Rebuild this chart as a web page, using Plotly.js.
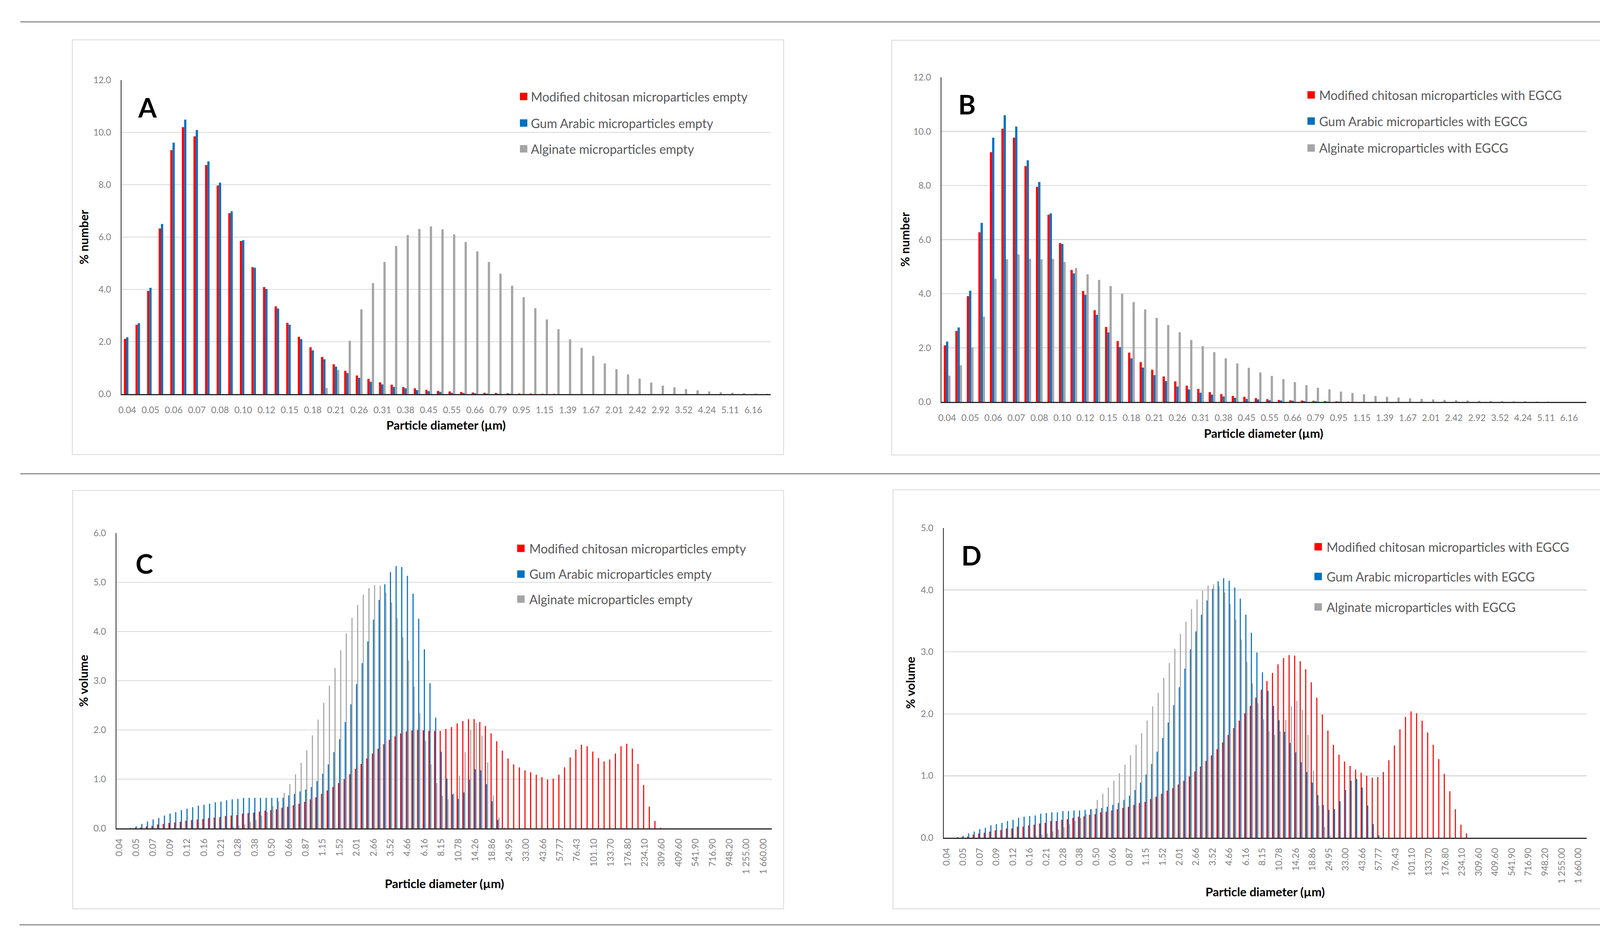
<!DOCTYPE html>
<html>
<head>
<meta charset="utf-8">
<script src="https://cdn.plot.ly/plotly-3.0.1.min.js"></script>
<style>
html,body{margin:0;padding:0;background:#ffffff;}
#chart{width:4281px;height:2412px;}
</style>
</head>
<body>
<div id="chart"></div>
<script>
// ---------- categories (particle size classes, µm) ----------
const diameters = ['0.0400','0.0439','0.0482','0.0529','0.0581','0.0638','0.0700','0.0768','0.0843','0.0926',
 '0.1016','0.1115','0.1224','0.1344','0.1475','0.1619','0.1777','0.1951','0.2142','0.2351',
 '0.2581','0.2833','0.3110','0.3414','0.3747','0.4114','0.4516','0.4957','0.5441','0.5973',
 '0.6557','0.7198','0.7901','0.8673','0.9521','1.045','1.147','1.259','1.382','1.518',
 '1.666','1.829','2.008','2.204','2.419','2.656','2.915','3.200','3.513','3.857',
 '4.234','4.647','5.102','5.600','6.148','6.748','7.408','8.132','8.927','9.799',
 '10.76','11.81','12.96','14.23','15.62','17.15','18.82','20.66','22.68','24.90',
 '27.33','30.00','32.94','36.16','39.69','43.57','47.82','52.50','57.63','63.26',
 '69.45','76.23','83.68','91.86','100.8','110.7','121.5','133.4','146.4','160.7',
 '176.4','193.7','212.6','233.4','256.2','281.2','308.7','338.9','372.0','408.4',
 '448.3','492.1','540.2','593.0','651.0','714.6','784.5','861.2','945.3','1038',
 '1139','1251','1373','1507','1654','1816'];

const tickLabelsNumber = ['0.04','0.05','0.06','0.07','0.08','0.10','0.12','0.15','0.18','0.21','0.26','0.31','0.38','0.45',
 '0.55','0.66','0.79','0.95','1.15','1.39','1.67','2.01','2.42','2.92','3.52','4.24','5.11','6.16'];
const tickLabelsVolume = ['0.04','0.05','0.07','0.09','0.12','0.16','0.21','0.28','0.38','0.50','0.66','0.87','1.15','1.52',
 '2.01','2.66','3.52','4.66','6.16','8.15','10.78','14.26','18.86','24.95','33.00','43.66','57.77','76.43','101.10',
 '133.70','176.80','234.10','309.60','409.60','541.90','716.90','948.20','1 255.00','1 660.00'];

// ---------- series names ----------
const namesEmpty = ['Modified chitosan microparticles empty','Gum Arabic microparticles empty','Alginate microparticles empty'];
const namesEGCG = ['Modified chitosan microparticles with EGCG','Gum Arabic microparticles with EGCG','Alginate microparticles with EGCG'];

// ---------- A: % number, empty ----------
const numChitosanEmpty = [2.11,2.65,3.94,6.33,9.32,10.20,9.85,8.75,7.97,6.91,
 5.85,4.85,4.09,3.35,2.72,2.19,1.79,1.42,1.14,0.89,
 0.71,0.58,0.45,0.36,0.27,0.22,0.16,0.12,0.10,0.08,
 0.06,0.05,0.04,0.03,0.02,0.02,0.01,0.01,0,0,
 0,0,0,0,0,0,0,0,0,0,
 0,0,0,0,0,0];
const numGumEmpty = [2.17,2.71,4.06,6.50,9.61,10.49,10.09,8.89,8.08,6.98,
 5.88,4.83,4.02,3.27,2.65,2.10,1.67,1.33,1.05,0.80,
 0.62,0.47,0.37,0.27,0.22,0.15,0.11,0.08,0.05,0.04,
 0.03,0.02,0.01,0.01,0,0,0,0,0,0,
 0,0,0,0,0,0,0,0,0,0,
 0,0,0,0,0,0];
const numAlginateEmpty = [0,0,0,0,0,0,0,0,0,0,
 0,0,0,0,0,0,0,0.23,0.92,2.04,
 3.24,4.24,5.05,5.66,6.08,6.31,6.41,6.29,6.10,5.81,
 5.45,5.05,4.60,4.14,3.70,3.28,2.85,2.48,2.09,1.77,
 1.46,1.17,0.95,0.75,0.59,0.44,0.32,0.26,0.19,0.14,
 0.10,0.07,0.05,0.03,0.02,0.01];

// ---------- B: % number, with EGCG ----------
const numChitosanEGCG = [2.09,2.62,3.91,6.27,9.23,10.10,9.77,8.72,7.95,6.92,
 5.87,4.88,4.10,3.39,2.77,2.25,1.82,1.47,1.19,0.94,
 0.76,0.60,0.48,0.36,0.29,0.22,0.19,0.14,0.10,0.07,
 0.06,0.05,0.04,0.03,0.02,0.01,0,0,0,0,
 0,0,0,0,0,0,0,0,0,0,
 0,0,0,0,0,0];
const numGumEGCG = [2.23,2.75,4.11,6.62,9.77,10.60,10.18,8.93,8.13,6.97,
 5.84,4.75,3.96,3.22,2.57,2.03,1.61,1.27,0.99,0.77,
 0.57,0.46,0.34,0.27,0.20,0.15,0.11,0.09,0.06,0.05,
 0.04,0.03,0.02,0.01,0.01,0,0,0,0,0,
 0,0,0,0,0,0,0,0,0,0,
 0,0,0,0,0,0];
const numAlginateEGCG = [0.97,1.35,2.01,3.15,4.55,5.27,5.45,5.29,5.27,5.29,
 5.17,4.95,4.72,4.51,4.28,4.00,3.69,3.42,3.11,2.84,
 2.57,2.29,2.06,1.84,1.61,1.42,1.26,1.09,0.96,0.84,
 0.73,0.62,0.52,0.46,0.38,0.33,0.28,0.22,0.19,0.16,
 0.13,0.11,0.09,0.07,0.06,0.05,0.04,0.03,0.03,0.02,
 0.02,0.01,0.01,0,0,0];

// ---------- C: % volume, empty ----------
const volChitosanEmpty = [0,0,0,0.01,0.02,0.04,0.05,0.08,0.09,0.11,
 0.12,0.135,0.155,0.17,0.18,0.19,0.21,0.22,0.23,0.25,
 0.26,0.27,0.30,0.31,0.32,0.34,0.36,0.37,0.39,0.42,
 0.44,0.47,0.50,0.54,0.59,0.63,0.70,0.77,0.84,0.92,
 1.00,1.10,1.21,1.31,1.42,1.52,1.62,1.71,1.80,1.87,
 1.93,1.97,1.99,2.00,1.99,1.98,1.98,1.98,2.02,2.06,
 2.13,2.18,2.22,2.22,2.16,2.08,1.93,1.77,1.58,1.42,
 1.30,1.24,1.18,1.14,1.09,1.04,0.99,1.01,1.09,1.24,
 1.44,1.60,1.70,1.67,1.56,1.43,1.36,1.40,1.52,1.67,
 1.72,1.62,1.31,0.88,0.44,0.15,0.01,0,0,0,
 0,0,0,0,0,0,0,0,0,0,
 0,0,0,0,0,0];
const volGumEmpty = [0,0,0.01,0.04,0.09,0.14,0.18,0.21,0.26,0.30,
 0.33,0.37,0.40,0.43,0.46,0.48,0.50,0.53,0.54,0.57,
 0.59,0.60,0.62,0.62,0.62,0.62,0.62,0.62,0.62,0.62,
 0.67,0.70,0.75,0.79,0.84,0.96,1.11,1.30,1.55,1.81,
 2.16,2.52,2.93,3.36,3.80,4.24,4.64,4.96,5.21,5.33,
 5.31,5.13,4.77,4.26,3.64,2.95,2.25,1.56,1.01,0.69,
 0.60,0.73,0.99,1.20,1.18,0.90,0.55,0.17,0,0,
 0,0,0,0,0,0,0,0,0,0,
 0,0,0,0,0,0,0,0,0,0,
 0,0,0,0,0,0,0,0,0,0,
 0,0,0,0,0,0,0,0,0,0,
 0,0,0,0,0,0];
const volAlginateEmpty = [0,0,0,0,0,0,0,0,0,0,
 0,0,0,0,0,0,0,0,0,0.01,
 0.03,0.05,0.08,0.13,0.17,0.26,0.33,0.45,0.55,0.72,
 0.90,1.10,1.33,1.59,1.89,2.21,2.55,2.90,3.26,3.62,
 3.96,4.28,4.54,4.75,4.88,4.94,4.93,4.79,4.59,4.27,
 3.88,3.41,2.88,2.34,1.78,1.30,0.92,0.66,0.59,0.71,
 1.07,1.55,2.00,2.14,1.88,1.34,0.67,0.22,0.02,0,
 0,0,0,0,0,0,0,0,0,0,
 0,0,0,0,0,0,0,0,0,0,
 0,0,0,0,0,0,0,0,0,0,
 0,0,0,0,0,0,0,0,0,0,
 0,0,0,0,0,0];

// ---------- D: % volume, with EGCG ----------
const volChitosanEGCG = [0,0,0,0.01,0.02,0.05,0.07,0.08,0.10,0.12,
 0.125,0.15,0.15,0.18,0.18,0.20,0.21,0.23,0.24,0.27,
 0.27,0.29,0.30,0.32,0.34,0.345,0.37,0.38,0.41,0.42,
 0.44,0.46,0.48,0.50,0.53,0.56,0.58,0.625,0.66,0.71,
 0.76,0.80,0.86,0.92,0.99,1.07,1.15,1.24,1.33,1.43,
 1.54,1.66,1.77,1.89,2.01,2.13,2.26,2.39,2.53,2.66,
 2.80,2.90,2.95,2.94,2.85,2.72,2.51,2.26,1.99,1.73,
 1.50,1.34,1.23,1.16,1.10,1.05,1.00,0.97,0.98,1.06,
 1.25,1.49,1.75,1.95,2.04,2.01,1.89,1.70,1.50,1.27,
 1.03,0.75,0.46,0.21,0.07,0,0,0,0,0,
 0,0,0,0,0,0,0,0,0,0,
 0,0,0,0,0,0];
const volGumEGCG = [0,0,0.01,0.03,0.07,0.10,0.14,0.16,0.20,0.22,
 0.24,0.27,0.29,0.32,0.34,0.35,0.36,0.39,0.40,0.41,
 0.41,0.43,0.43,0.44,0.44,0.45,0.46,0.47,0.48,0.50,
 0.53,0.56,0.61,0.68,0.77,0.89,1.02,1.19,1.39,1.61,
 1.86,2.14,2.43,2.73,3.04,3.33,3.60,3.83,4.02,4.14,
 4.19,4.15,4.04,3.86,3.60,3.31,2.99,2.67,2.37,2.13,
 1.90,1.71,1.53,1.38,1.22,1.06,0.89,0.69,0.53,0.45,
 0.46,0.59,0.77,0.92,0.95,0.81,0.52,0.22,0.04,0,
 0,0,0,0,0,0,0,0,0,0,
 0,0,0,0,0,0,0,0,0,0,
 0,0,0,0,0,0,0,0,0,0,
 0,0,0,0,0,0];
const volAlginateEGCG = [0,0,0,0,0,0,0,0,0,0,
 0,0,0,0,0.01,0.02,0.03,0.05,0.07,0.10,
 0.13,0.17,0.22,0.27,0.32,0.38,0.46,0.61,0.71,0.81,
 0.92,1.04,1.18,1.33,1.50,1.69,1.89,2.12,2.34,2.58,
 2.82,3.05,3.29,3.49,3.69,3.85,3.99,4.07,4.09,4.06,
 3.96,3.77,3.52,3.20,2.84,2.49,2.17,1.91,1.72,1.66,
 1.72,1.90,2.12,2.21,2.06,1.66,1.08,0.52,0.17,0.03,
 0,0,0,0,0,0,0,0,0,0,
 0,0,0,0,0,0,0,0,0,0,
 0,0,0,0,0,0,0,0,0,0,
 0,0,0,0,0,0,0,0,0,0,
 0,0,0,0,0,0];

// ---------- styling ----------
const seriesColors = ['#FF0000','#0070C0','#A5A5A5'];
const W = 4281, H = 2412;
const px = v => v / W;
const py = v => 1 - v / H;
const tickFont = {family:'Lato, "Open Sans", sans-serif', size:23, color:'#7f7f7f'};
const titleFont = {family:'Lato, "Open Sans", sans-serif', size:31, color:'#000000', weight:'bold'};
const legendFont = {family:'Lato, "Open Sans", sans-serif', size:32, color:'#595959'};
const letterFont = {family:'Lato, "Open Sans", sans-serif', size:68, color:'#000000', weight:'bold'};

const catsNumber = diameters.slice(0, 56);
const tickvalsNumber = catsNumber.filter((d, i) => i % 2 === 0);
const tickvalsVolume = diameters.filter((d, i) => i % 3 === 0);

const panels = [
  {s:'',  letter:'A', ytitle:'% number', cats:catsNumber, tv:tickvalsNumber, tt:tickLabelsNumber, angle:0,   xlen:18,
   series:[numChitosanEmpty,numGumEmpty,numAlginateEmpty], names:namesEmpty,
   plot:[311,1973,205,1009], yr:[0,12], dt:2,
   box:[185,102,2006,1164], letterPos:[377,275], xt:[1142,1088], yt:[214,607],
   leg:{sx:1331, tx:1357, ys:[247,315,381]}},
  {s:'2', letter:'B', ytitle:'% number', cats:catsNumber, tv:tickvalsNumber, tt:tickLabelsNumber, angle:0,   xlen:18,
   series:[numChitosanEGCG,numGumEGCG,numAlginateEGCG], names:namesEGCG,
   plot:[2410,4061,198,1029], yr:[0,12], dt:2,
   box:[2283,103,4097,1165], letterPos:[2475,267], xt:[3235,1109], yt:[2316,613],
   leg:{sx:3347, tx:3375, ys:[243,310,379]}},
  {s:'3', letter:'C', ytitle:'% volume', cats:diameters, tv:tickvalsVolume, tt:tickLabelsVolume, angle:-90, xlen:14,
   series:[volChitosanEmpty,volGumEmpty,volAlginateEmpty], names:namesEmpty,
   plot:[298,1976,1365,2121], yr:[0,6], dt:1,
   box:[186,1256,2006,2327], letterPos:[369,1442], xt:[1138,2262], yt:[213,1743],
   leg:{sx:1324, tx:1353, ys:[1404,1470,1534]}},
  {s:'4', letter:'D', ytitle:'% volume', cats:diameters, tv:tickvalsVolume, tt:tickLabelsVolume, angle:-90, xlen:14,
   series:[volChitosanEGCG,volGumEGCG,volAlginateEGCG], names:namesEGCG,
   plot:[2416,4062,1352,2145], yr:[0,5], dt:1,
   box:[2286,1254,4097,2327], letterPos:[2487,1421], xt:[3239,2283], yt:[2330,1748],
   leg:{sx:3365, tx:3394, ys:[1400,1476,1554]}}
];

const traces = [];
const layout = {
  width: W, height: H,
  margin: {l:0, r:0, t:0, b:0, pad:0},
  paper_bgcolor:'#ffffff', plot_bgcolor:'rgba(0,0,0,0)',
  showlegend:false,
  barmode:'group', bargap:0.42, bargroupgap:0,
  shapes:[], annotations:[]
};

// page separator lines
[[52,4253,56],[52,4253,1213],[50,4231,2368]].forEach(l => {
  layout.shapes.push({type:'line', xref:'paper', yref:'paper', x0:px(l[0]), x1:px(l[1]), y0:py(l[2]), y1:py(l[2]),
    line:{color:'#8c8c8c', width:3}, layer:'below'});
});

panels.forEach(p => {
  p.series.forEach((vals, j) => {
    traces.push({type:'bar', x:p.cats, y:vals, name:p.names[j], xaxis:'x'+p.s, yaxis:'y'+p.s,
      marker:{color:seriesColors[j], line:{width:0}}, hoverinfo:'skip'});
  });
  layout['xaxis'+p.s] = {
    type:'category', domain:[px(p.plot[0]), px(p.plot[1])], anchor:'y'+p.s,
    categoryorder:'array', categoryarray:p.cats,
    tickmode:'array', tickvals:p.tv, ticktext:p.tt, tickangle:p.angle,
    showline:true, linecolor:'#262626', linewidth:3, showgrid:false, zeroline:false,
    ticks:'outside', ticklen:p.xlen, tickcolor:'rgba(0,0,0,0)', tickfont:tickFont,
    fixedrange:true, automargin:false
  };
  layout['yaxis'+p.s] = {
    domain:[py(p.plot[3]), py(p.plot[2])], anchor:'x'+p.s,
    range:p.yr, dtick:p.dt, tick0:0, tickformat:'.1f',
    showgrid:true, gridcolor:'#d9d9d9', gridwidth:2.5,
    showline:true, linecolor:'#262626', linewidth:2, zeroline:false,
    ticks:'outside', ticklen:20, tickcolor:'rgba(0,0,0,0)', tickfont:tickFont,
    fixedrange:true, automargin:false
  };
  // panel frame
  layout.shapes.push({type:'rect', xref:'paper', yref:'paper', x0:px(p.box[0]), x1:px(p.box[2]), y0:py(p.box[3]), y1:py(p.box[1]),
    line:{color:'#d9d9d9', width:2}, fillcolor:'rgba(0,0,0,0)', layer:'below'});
  // panel letter
  layout.annotations.push({text:p.letter, xref:'paper', yref:'paper', x:px(p.letterPos[0]), y:py(p.letterPos[1]),
    xanchor:'center', yanchor:'middle', showarrow:false, font:letterFont});
  // axis titles
  layout.annotations.push({text:'Particle diameter (µm)', xref:'paper', yref:'paper', x:px(p.xt[0]), y:py(p.xt[1]),
    xanchor:'center', yanchor:'middle', showarrow:false, font:titleFont});
  layout.annotations.push({text:p.ytitle, xref:'paper', yref:'paper', x:px(p.yt[0]), y:py(p.yt[1]), textangle:-90,
    xanchor:'center', yanchor:'middle', showarrow:false, font:titleFont});
  // legend
  p.names.forEach((nm, j) => {
    const yc = p.leg.ys[j];
    layout.shapes.push({type:'rect', xref:'paper', yref:'paper', x0:px(p.leg.sx), x1:px(p.leg.sx+19),
      y0:py(yc+9.5), y1:py(yc-9.5), line:{width:0}, fillcolor:seriesColors[j]});
    layout.annotations.push({text:nm, xref:'paper', yref:'paper', x:px(p.leg.tx), y:py(yc),
      xanchor:'left', yanchor:'middle', showarrow:false, font:legendFont});
  });
});

Plotly.newPlot('chart', traces, layout, {displayModeBar:false, staticPlot:true});
</script>
</body>
</html>
